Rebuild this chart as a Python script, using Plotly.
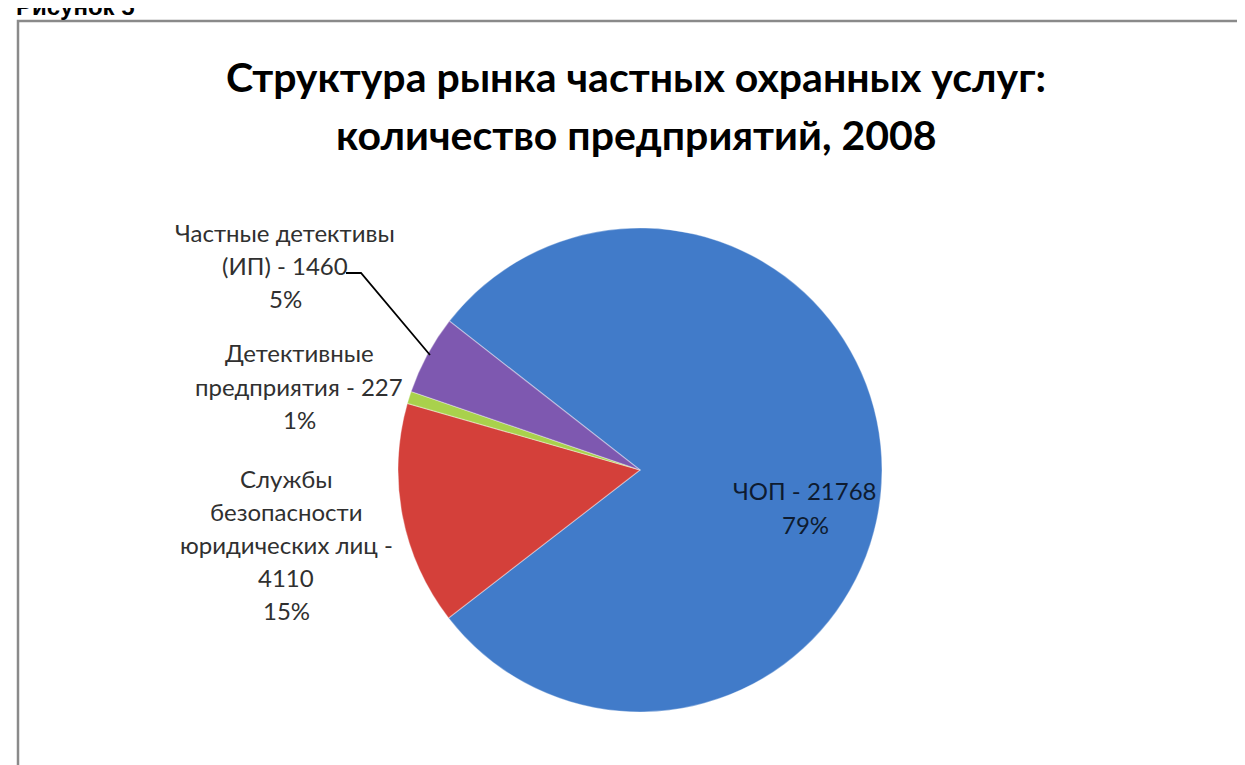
import plotly.graph_objects as go

# ---- data ----
categories = ["ЧОП", "Службы безопасности юридических лиц", "Детективные предприятия", "Частные детективы (ИП)"]
values = [21768, 4110, 227, 1460]
colors = ["#417bc9", "#d4403a", "#a9d14c", "#7e58b0"]
label_templates = [
    ["ЧОП - {value}", "{pct}"],
    ["Службы", "безопасности", "юридических лиц -", "{value}", "{pct}"],
    ["Детективные", "предприятия - {value}", "{pct}"],
    ["Частные детективы", "(ИП) - {value}", "{pct}"],
]
title_lines = ["Структура рынка частных охранных услуг:", "количество предприятий, 2008"]
caption = "Рисунок 5"

# ---- layout helpers (pixels) ----
W, H = 1245, 765
def px(x):
    return x / W
def py(y):
    return 1 - y / H

label_pos = [  # (center x, first line y, line step)
    (797, 482, 34),
    (278, 470, 33),
    (291, 345, 33),
    (277, 224, 33),
]
label_colors = ["#0e1b30", "#303030", "#303030", "#303030"]

cx, cy, r = 632, 462, 242

fig = go.Figure(go.Pie(
    labels=categories,
    values=values,
    sort=False,
    direction="clockwise",
    rotation=308,
    marker=dict(colors=colors, line=dict(color="rgba(255,255,255,0.35)", width=1.2)),
    textinfo="none",
    hoverinfo="label+value+percent",
    domain=dict(x=[px(cx - r), px(cx + r)], y=[py(cy + r), py(cy - r)]),
    showlegend=False,
))

total = sum(values)
annotations = []
for tmpl, v, (lx, ly, step), col in zip(label_templates, values, label_pos, label_colors):
    pct = f"{round(100 * v / total)}%"
    for i, line in enumerate(tmpl):
        annotations.append(dict(
            text=line.format(value=v, pct=pct),
            x=px(lx), y=py(ly + i * step), xref="paper", yref="paper",
            xanchor="center", yanchor="middle", showarrow=False,
            font=dict(family="Lato", size=24, color=col),
        ))

# title
for i, t in enumerate(title_lines):
    annotations.append(dict(
        text=f"<b>{t}</b>", x=px(628), y=py(68 + i * 59), xref="paper", yref="paper",
        xanchor="center", yanchor="middle", showarrow=False,
        font=dict(family="Lato", size=41, color="#000000"),
    ))

# caption (cut at top, as in the reference)
annotations.append(dict(
    text=f"<b>{caption}</b>", x=px(6), y=py(14), xref="paper", yref="paper",
    xanchor="left", yanchor="bottom", showarrow=False,
    font=dict(family="Liberation Sans", size=24, color="#000000"),
))

shapes = [
    dict(type="rect", xref="paper", yref="paper", x0=px(10), x1=px(1260), y0=py(780), y1=py(13),
         line=dict(color="#8a8a8a", width=2.5), fillcolor="rgba(0,0,0,0)", layer="below"),
    dict(type="path", xref="paper", yref="paper",
         path=f"M {px(338)},{py(265)} L {px(353)},{py(265)} L {px(422)},{py(347)}",
         line=dict(color="#000000", width=1.8)),
]

fig.update_layout(
    width=W, height=H,
    margin=dict(l=0, r=0, t=0, b=0),
    paper_bgcolor="white",
    plot_bgcolor="white",
    annotations=annotations,
    shapes=shapes,
)

fig.write_html("out.html")
